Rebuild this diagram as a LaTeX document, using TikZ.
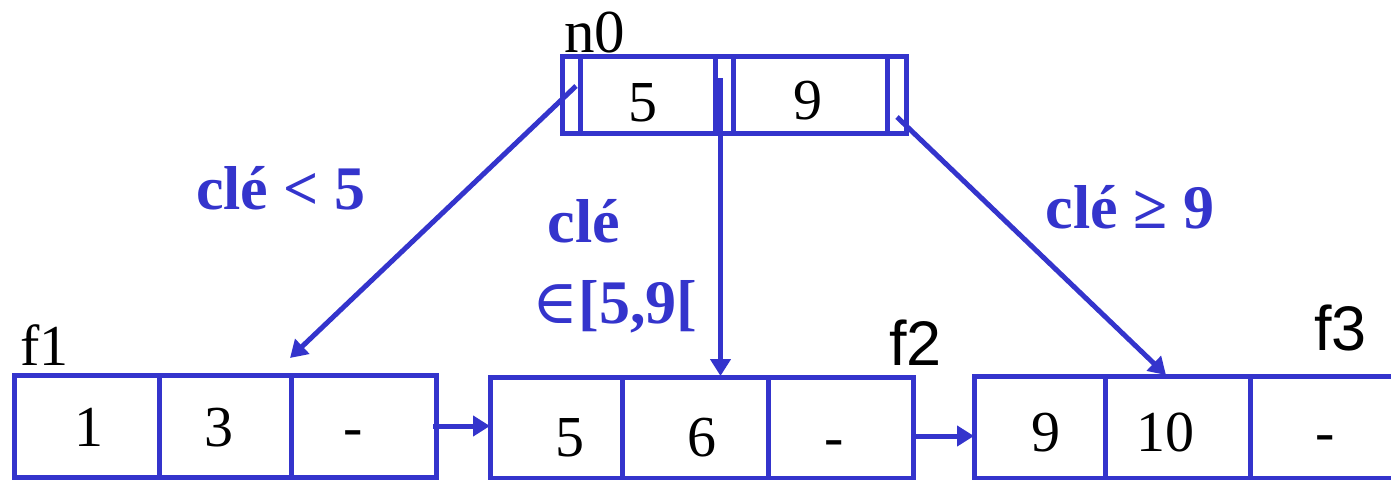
\documentclass[tikz,border=0pt]{standalone}
\usepackage{fontspec}
\setmainfont{Liberation Serif}
\newfontfamily\sansf{Liberation Sans}
\newfontfamily\symf{DejaVu Serif}
\usetikzlibrary{arrows.meta}
\definecolor{bblue}{RGB}{52,52,204}
\tikzset{
  cell/.style={draw=bblue, line width=5pt, inner sep=0pt, outer sep=0pt, rectangle},
  digit/.style={anchor=base, inner sep=0pt, font=\fontsize{58}{60}\selectfont},
  lbl/.style={anchor=base west, inner sep=0pt, font=\fontsize{58}{60}\selectfont},
  slbl/.style={anchor=base west, inner sep=0pt, font=\sansf\fontsize{63}{65}\selectfont},
  cond/.style={anchor=base, inner sep=0pt, text=bblue, font=\bfseries\fontsize{62}{64}\selectfont},
  link/.style={draw=bblue, line width=5pt, -{Triangle[length=17pt,width=20pt]}},
}
\begin{document}
\begin{tikzpicture}[x=1pt,y=-1pt]
\useasboundingbox (0,0) rectangle (1391,479);
% n0 node
\node[cell, minimum width=18pt, minimum height=77pt] (p0) at (571,94.5) {};
\node[cell, minimum width=135pt, minimum height=77pt] (k1) at (647.5,94.5) {};
\node[cell, minimum width=18pt, minimum height=77pt] (p1) at (724,94.5) {};
\node[cell, minimum width=154pt, minimum height=77pt] (k2) at (810,94.5) {};
\node[cell, minimum width=19pt, minimum height=77pt] (p2) at (896.5,94.5) {};
\node[digit] (t5) at (643,121) {5};
\node[digit] (t9) at (808,119) {9};
\node[lbl, font=\fontsize{61}{63}\selectfont] (n0) at (564,52) {n0};
% f1
\node[cell, minimum width=145pt, minimum height=101.5pt] (f1a) at (87,426.25) {};
\node[cell, minimum width=131.5pt, minimum height=101.5pt] (f1b) at (225.25,426.25) {};
\node[cell, minimum width=145pt, minimum height=101.5pt] (f1c) at (363.5,426.25) {};
\node[digit] (a1) at (89,446) {1};
\node[digit] (a2) at (219,446) {3};
\node[digit] (a3) at (353,446) {-};
\node[lbl] (f1) at (20,365) {f1};
% f2
\node[cell, minimum width=132pt, minimum height=101pt] (f2a) at (556,427.5) {};
\node[cell, minimum width=146pt, minimum height=101pt] (f2b) at (695,427.5) {};
\node[cell, minimum width=145pt, minimum height=101pt] (f2c) at (840.5,427.5) {};
\node[digit] (b1) at (570,456) {5};
\node[digit] (b2) at (702,456) {6};
\node[digit] (b3) at (834,456) {-};
\node[slbl] (f2) at (889,365) {f2};
% f3
\node[cell, minimum width=131pt, minimum height=102pt] (f3a) at (1039.5,427) {};
\node[cell, minimum width=145pt, minimum height=102pt] (f3b) at (1177.5,427) {};
\node[cell, minimum width=145pt, minimum height=102pt] (f3c) at (1322.5,427) {};
\node[digit] (c1) at (1046,451) {9};
\node[digit] (c2) at (1165,451) {10};
\node[digit] (c3) at (1325,451) {-};
\node[slbl] (f3) at (1314,350) {f3};
% conditions
\node[cond] (l1) at (281,209) {clé < 5};
\node[cond] (l2a) at (584,242) {clé};
\node[cond] (l2b) at (615,323) {{\mdseries\symf ∈}[5,9[};
\node[cond] (l3) at (1130,228) {clé ≥ 9};
% connectors
\coordinate (s1) at (576,86);
\coordinate (e1) at (290,358);
\coordinate (s2) at (720.5,78);
\coordinate (e2) at (720.5,376);
\coordinate (s3) at (897,117);
\coordinate (e3) at (1166,375);
\draw[link] (s1) -- (e1);
\draw[link] (s2) -- (e2);
\draw[link] (s3) -- (e3);
\coordinate (h1) at (433,426);
\coordinate (h2) at (913,436);
\draw[link] (h1) -- (h1 -| f2a.west);
\draw[link] (h2) -- (h2 -| f3a.west);
\end{tikzpicture}
\end{document}
